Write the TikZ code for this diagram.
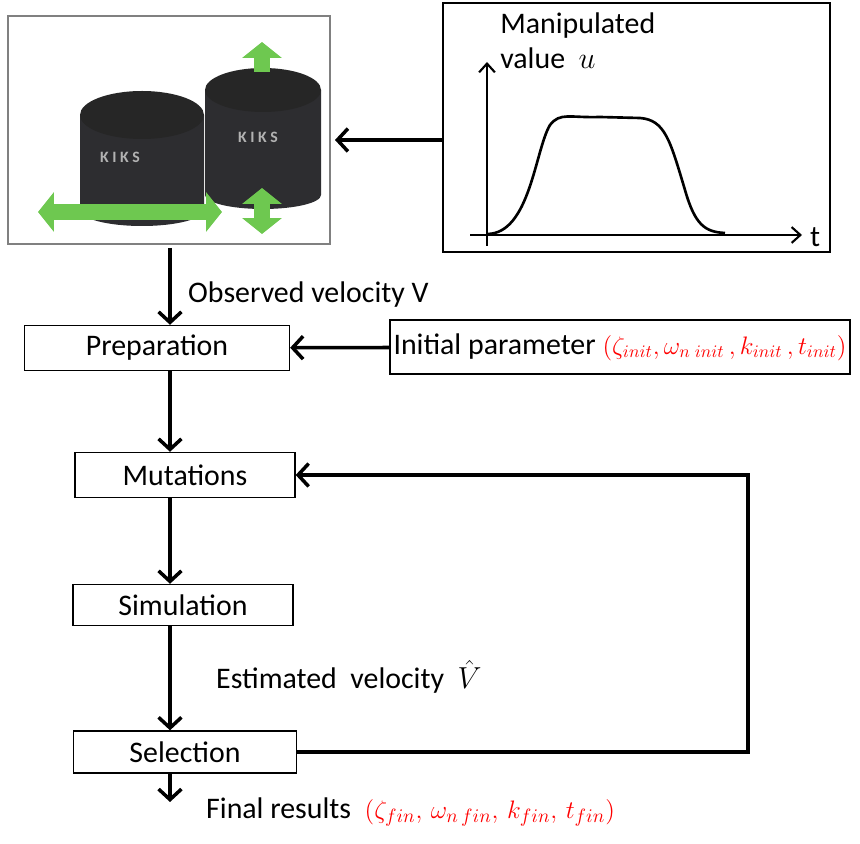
\documentclass[tikz,border=0pt]{standalone}
\usepackage{fontspec}
\setmainfont{Carlito}
\usetikzlibrary{arrows.meta,positioning}
\definecolor{robotgray}{RGB}{45,45,48}
\definecolor{arrowgreen}{RGB}{110,200,80}
\tikzset{
  stage/.style={draw,line width=0.8pt,minimum height=0.9cm,align=center},
  flow/.style={-{Straight Barb[length=6pt,width=13pt]},line width=2pt},
  greenarrow/.style={{Triangle[length=9pt,width=22pt]}-{Triangle[length=9pt,width=22pt]},line width=9pt,arrowgreen}
}
\begin{document}
\begin{tikzpicture}[x=0.02cm,y=-0.02cm,font=\fontsize{17}{20}\selectfont]
\useasboundingbox (0,0) rectangle (860,844);
% robots
\draw[gray,line width=0.8pt] (8,16) rectangle (330,244);
\fill[robotgray] (205,90) -- (205,195) arc (180:0:58 and 14) -- (321,90) -- cycle;
\fill[black!85] (263,90) ellipse (58 and 22);
\fill[robotgray] (80,115) -- (80,210) arc (180:0:62 and 16) -- (204,115) -- cycle;
\fill[black!85] (142,115) ellipse (62 and 24);
\node[white!70!black,font=\bfseries\small] (kiks1) at (120,157) {K I K S};
\node[white!70!black,font=\bfseries\small] (kiks2) at (258,137) {K I K S};
\draw[greenarrow] (38,212) -- (222,212);
\draw[greenarrow,{Triangle[length=9pt,width=22pt]}-] (262,42) -- (262,72);
\draw[greenarrow] (262,188) -- (262,234);
% graph
\draw[line width=1.2pt] (443,3) rectangle (830,252);
\draw[-{Straight Barb[length=5pt,width=9pt]},line width=1.2pt] (487,246) -- (487,62);
\draw[-{Straight Barb[length=5pt,width=9pt]},line width=1.2pt] (470,235) -- (802,235);
\node[anchor=west] (tlab) at (804,237) {t};
\node[anchor=north west,align=left,inner sep=0pt] (ulab) at (500,12) {Manipulated\\value \ $u$};
\draw[line width=1.5pt] (487,234) .. controls (530,234) and (535,150) .. (550,125)
  .. controls (560,112) and (570,118) .. (600,117) -- (640,118)
  .. controls (665,120) and (670,140) .. (685,190)
  .. controls (695,225) and (705,232) .. (725,233);
\draw[flow] (443,140) -- (335,140);
% flow chart
\node[stage,minimum width=5.3cm] (prep) at (157,348) {Preparation};
\node[stage,minimum width=8.66cm,minimum height=1.08cm,inner sep=2pt] (init) at (620,347)
  {Initial parameter {\fontsize{14}{16}\selectfont\textcolor{red}{$(\zeta_{init},\omega_{n\;init}\,,k_{init}\,,t_{init})$}}};
\node[stage,minimum width=4.4cm] (mut) at (185,475) {Mutations};
\node[stage,minimum width=4.4cm,minimum height=0.82cm] (sim) at (183,605) {Simulation};
\node[stage,minimum width=4.46cm,minimum height=0.84cm] (sel) at (185,752) {Selection};
\coordinate (top) at (170,248);
\coordinate (end) at (170,802);
\node[anchor=west] (obs) at (182,295) {Observed velocity V};
\node[anchor=west] (est) at (210,677) {Estimated \ velocity \ $\hat{V}$};
\node[anchor=west] (fin) at (200,812) {Final results \ {\fontsize{15}{16}\selectfont\textcolor{red}{$(\zeta_{fin},\,\omega_{n\,fin},\,k_{fin},\,t_{fin})$}}};
\draw[flow] (top) -- (top |- prep.north);
\draw[flow] (init) -- (prep);
\draw[flow] (top |- prep.south) -- (top |- mut.north);
\draw[flow] (top |- mut.south) -- (top |- sim.north);
\draw[flow] (top |- sim.south) -- (top |- sel.north);
\draw[flow] (top |- sel.south) -- (end);
\draw[flow] (sel.east) -- (748,752) -- (748,475) -- (mut.east);
\end{tikzpicture}
\end{document}
